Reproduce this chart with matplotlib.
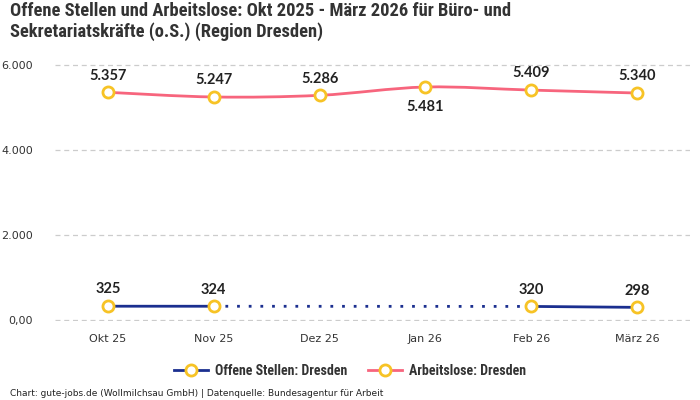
import numpy as np
import matplotlib.pyplot as plt
from matplotlib.path import Path
from matplotlib.patches import PathPatch
from matplotlib.lines import Line2D

months = ['Okt 25', 'Nov 25', 'Dez 25', 'Jan 26', 'Feb 26', 'März 26']
offene = [325, 324, None, None, 320, 298]
arbeitslose = [5357, 5247, 5286, 5481, 5409, 5340]
yticks = [0, 2000, 4000, 6000]
ytick_labels = ['0,00', '2.000', '4.000', '6.000']

blue = '#1b2f8f'
pink = '#f7657d'
gold = '#f7c325'
cond = ['DejaVu Sans Condensed', 'Liberation Sans Narrow', 'Roboto Condensed', 'Roboto']

plt.rcParams['font.family'] = ['DejaVu Sans']
fig = plt.figure(figsize=(7, 4), dpi=100)
ax = fig.add_axes([55 / 700, 78.7 / 400, 635 / 700, 257.6 / 400])

x = np.arange(len(months))

# Arbeitslose: glatte Kurve durch die Punkte (Catmull-Rom als Bezier)
pts = np.column_stack([x, arbeitslose]).astype(float)
verts = [pts[0]]
codes = [Path.MOVETO]
for i in range(len(pts) - 1):
    p0 = pts[i - 1] if i > 0 else pts[i]
    p1 = pts[i]
    p2 = pts[i + 1]
    p3 = pts[i + 2] if i + 2 < len(pts) else pts[i + 1]
    c1 = p1 + (p2 - p0) / 6
    c2 = p2 - (p3 - p1) / 6
    verts += [c1, c2, p2]
    codes += [Path.CURVE4] * 3
ax.add_patch(PathPatch(Path(verts, codes), fill=False, edgecolor=pink, lw=2, zorder=3))

# Offene Stellen: durchgezogen wo Daten, gepunktet über die Lücke
idx = [i for i, v in enumerate(offene) if v is not None]
vals = [offene[i] for i in idx]
ax.plot(idx[:2], vals[:2], color=blue, lw=2, zorder=3)
ax.plot(idx[2:], vals[2:], color=blue, lw=2, zorder=3)
ax.plot([idx[1], idx[2]], [vals[1], vals[2]], color=blue, lw=2, ls=(0, (1, 3.2)), zorder=3)

mk = dict(marker='o', ms=8, mfc='white', mec=gold, mew=2, ls='none', zorder=4, clip_on=False)
ax.plot(x, arbeitslose, **mk)
ax.plot(idx, vals, **mk)

lbl = dict(textcoords='offset points', ha='center', fontsize=10.5, fontweight='bold',
           color='#222222', family=['Lato', 'DejaVu Sans'])
for i, v in enumerate(arbeitslose):
    s = f'{v:,}'.replace(',', '.')
    if i == 3:
        ax.annotate(s, (i, v), xytext=(0, -9), va='top', **lbl)
    else:
        ax.annotate(s, (i, v), xytext=(0, 7), va='bottom', **lbl)
for i, v in zip(idx, vals):
    ax.annotate(str(v), (i, v), xytext=(0, 7), va='bottom', **lbl)

ax.set_xlim(-0.5, len(months) - 0.5)
ax.set_ylim(-30, 6030)
ax.set_xticks(x)
ax.set_xticklabels(months)
ax.set_yticks(yticks)
ax.set_yticklabels(ytick_labels)
ax.tick_params(length=0, labelsize=8, colors='#333333')
ax.tick_params(axis='x', pad=9)
ax.tick_params(axis='y', pad=16)
ax.grid(axis='y', color='#cccccc', ls=(0, (4, 3)), lw=0.9)
ax.set_axisbelow(True)
for sp in ax.spines.values():
    sp.set_visible(False)

fig.text(10 / 700, 1 - 2 / 400, 'Offene Stellen und Arbeitslose: Okt 2025 - März 2026 für Büro- und\n'
         'Sekretariatskräfte (o.S.) (Region Dresden)', ha='left', va='top', fontsize=13.3,
         fontweight='bold', color='#333333', family=cond, linespacing=1.15)

handles = [Line2D([], [], color=blue, lw=2, marker='o', ms=8, mfc='white', mec=gold, mew=2),
           Line2D([], [], color=pink, lw=2, marker='o', ms=8, mfc='white', mec=gold, mew=2)]
fig.legend(handles, ['Offene Stellen: Dresden', 'Arbeitslose: Dresden'], loc='center',
           bbox_to_anchor=(0.5, 1 - 371 / 400), ncol=2, frameon=False, handlelength=2.45,
           handletextpad=0.5, columnspacing=1.5,
           prop={'family': cond, 'weight': 'bold', 'size': 10}, labelcolor='#333333')

fig.text(10 / 700, 1 - 393 / 400, 'Chart: gute-jobs.de (Wollmilchsau GmbH) | Datenquelle: Bundesagentur für Arbeit',
         ha='left', va='center', fontsize=6.45, color='#222222')

fig.savefig('out.png', dpi=100)
